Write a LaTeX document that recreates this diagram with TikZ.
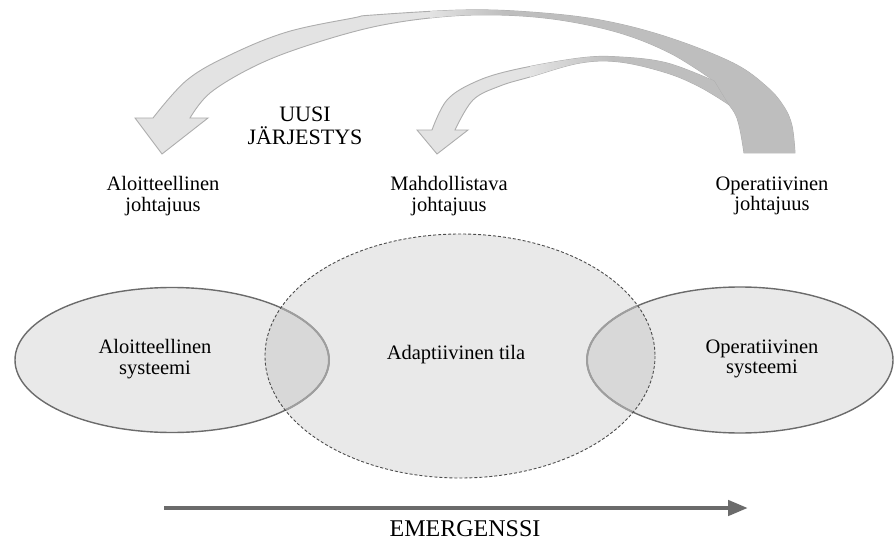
\documentclass[tikz,border=0pt]{standalone}
\usepackage{fontspec}
\setmainfont{Liberation Serif}
\usetikzlibrary{arrows.meta}
\definecolor{arrlight}{gray}{0.89}
\definecolor{arrdark}{gray}{0.745}
\definecolor{arredge}{gray}{0.68}
\definecolor{ellfill}{gray}{0.64}
\definecolor{ellline}{gray}{0.42}
\definecolor{elllineinner}{gray}{0.62}
\definecolor{circline}{gray}{0.3}
\definecolor{emline}{gray}{0.42}
\begin{document}
\begin{tikzpicture}[x=1pt,y=-1pt,
  lbl/.style={font=\fontsize{20.5}{20.5}\selectfont, align=center, inner sep=0pt},
  capslbl/.style={font=\fontsize{22}{23}\selectfont, align=center, inner sep=0pt},
  emlbl/.style={font=\fontsize{24}{26}\selectfont, inner sep=0pt},
  ellfillstyle/.style={fill=ellfill, fill opacity=0.24},
  sidestroke/.style={line width=1.4},
  circstroke/.style={draw=circline, line width=0.9, dash pattern=on 3pt off 2pt},
  arrowbody/.style={fill=arrlight, draw=arredge, line width=0.9},
  emarrow/.style={draw=emline, line width=4.5, -{Triangle[length=20pt, width=15pt]}}]
\useasboundingbox (0,0) rectangle (894,540);

% ---------- big curved arrow ----------
\path[save path=\bigarrow]
  plot[smooth, tension=0.6] coordinates {(795,153) (792,126) (784,107) (767,87) (733,63) (667,37) (600,20) (530,12) (463,10) (373,15) (353,18) (287,32) (230,55) (187,80) (153,118)}
  -- (135,118) -- (162,154) -- (208,118) -- (190,118)
  -- plot[smooth, tension=0.6] coordinates {(190,118) (210,93) (253,67) (303,47) (373,27) (440,17) (500,15) (560,20) (620,33) (670,53) (710,78)}
  -- plot[smooth, tension=0.6] coordinates {(710,78) (723,97) (737,118) (744,153)}
  -- cycle;
\path[arrowbody, use path=\bigarrow];
\begin{scope}
  \clip[use path=\bigarrow];
  \shade[left color=arrlight, right color=arrdark] (430,0) rectangle (505,160);
  \fill[arrdark] (504,0) rectangle (800,160);
\end{scope}

% ---------- small curved arrow ----------
\path[save path=\smallarrow]
  plot[smooth, tension=0.6] coordinates {(714,81) (667,63) (620,57) (580,58) (513,70) (475,82) (447,100) (432,130)}
  -- (417,130) -- (437,154) -- (468,130) -- (455,130)
  -- plot[smooth, tension=0.6] coordinates {(455,130) (473,100) (500,86) (530,77) (580,63) (620,62) (667,73) (700,87) (728,104)}
  -- cycle;
\path[arrowbody, use path=\smallarrow];
\begin{scope}
  \clip[use path=\smallarrow];
  \shade[left color=arrlight, right color=arrdark] (530,0) rectangle (612,160);
  \fill[arrdark] (611,0) rectangle (800,160);
\end{scope}

% ---------- ellipses ----------
\fill[ellfillstyle] (172,360) ellipse [x radius=157, y radius=72.5];
\fill[ellfillstyle] (740,360) ellipse [x radius=153, y radius=73];
\fill[ellfillstyle] (460,356) ellipse [x radius=195, y radius=122];
\draw[sidestroke, draw=ellline] (172,360) ellipse [x radius=157, y radius=72.5];
\draw[sidestroke, draw=ellline] (740,360) ellipse [x radius=153, y radius=73];
\begin{scope}
  \clip (460,356) ellipse [x radius=195, y radius=122];
  \draw[line width=2, draw=elllineinner] (172,360) ellipse [x radius=157, y radius=72.5];
  \draw[line width=2, draw=elllineinner] (740,360) ellipse [x radius=153, y radius=73];
\end{scope}
\draw[circstroke] (460,356) ellipse [x radius=195, y radius=122];

% ---------- emergence arrow ----------
\coordinate (es) at (164,508);
\coordinate (ee) at (748,508);
\draw[emarrow] (es) -- (ee);

% ---------- texts ----------
\node[capslbl] (uj) at (305,126) {UUSI\\JÄRJESTYS};
\node[lbl] (aj) at (163,196) {Aloitteellinen\\johtajuus};
\node[lbl] (mj) at (449,196) {Mahdollistava\\johtajuus};
\node[lbl] (oj) at (772,196) {Operatiivinen\\johtajuus};
\node[lbl] (as) at (155,359) {Aloitteellinen\\systeemi};
\node[lbl, anchor=base] (at) at (456,359.3) {Adaptiivinen tila};
\node[lbl] (os) at (762,359) {Operatiivinen\\systeemi};
\node[emlbl, anchor=base] (em) at (465,536.5) {EMERGENSSI};
\end{tikzpicture}
\end{document}
